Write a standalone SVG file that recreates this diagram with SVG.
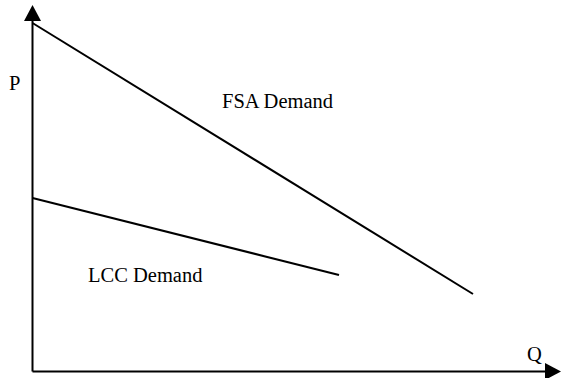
<svg xmlns="http://www.w3.org/2000/svg" width="561" height="378" viewBox="0 0 561 378">
<style>
.ax{stroke:#000;stroke-width:2;fill:none}
.ln{stroke:#000;stroke-width:2;fill:none}
.t{font-family:'Liberation Serif','DejaVu Serif','Times New Roman',Times,serif;font-size:20.5px;fill:#000}
</style>
<rect width="561" height="378" fill="#fff"/>
<g id="connectors">
<line class="ax" x1="32.5" y1="20" x2="32.5" y2="371.5"/>
<polygon points="32.5,5 24,21 41,21" fill="#000"/>
<line class="ax" x1="32.5" y1="371.5" x2="546" y2="371.5"/>
<polygon points="561,371.5 545,363 545,380" fill="#000"/>
</g>
<g id="fsa">
<line class="ln" x1="32.5" y1="23" x2="473" y2="294"/>
<text class="t" x="222" y="108" font-family="Liberation Serif, DejaVu Serif, serif">FSA Demand</text>
</g>
<g id="lcc">
<line class="ln" x1="32.5" y1="198" x2="339" y2="275"/>
<text class="t" x="88" y="282" font-family="Liberation Serif, DejaVu Serif, serif">LCC Demand</text>
</g>
<g id="labels">
<text class="t" x="9" y="90" font-family="Liberation Serif, DejaVu Serif, serif">P</text>
<text class="t" x="527" y="361" font-family="Liberation Serif, DejaVu Serif, serif">Q</text>
</g>
</svg>
